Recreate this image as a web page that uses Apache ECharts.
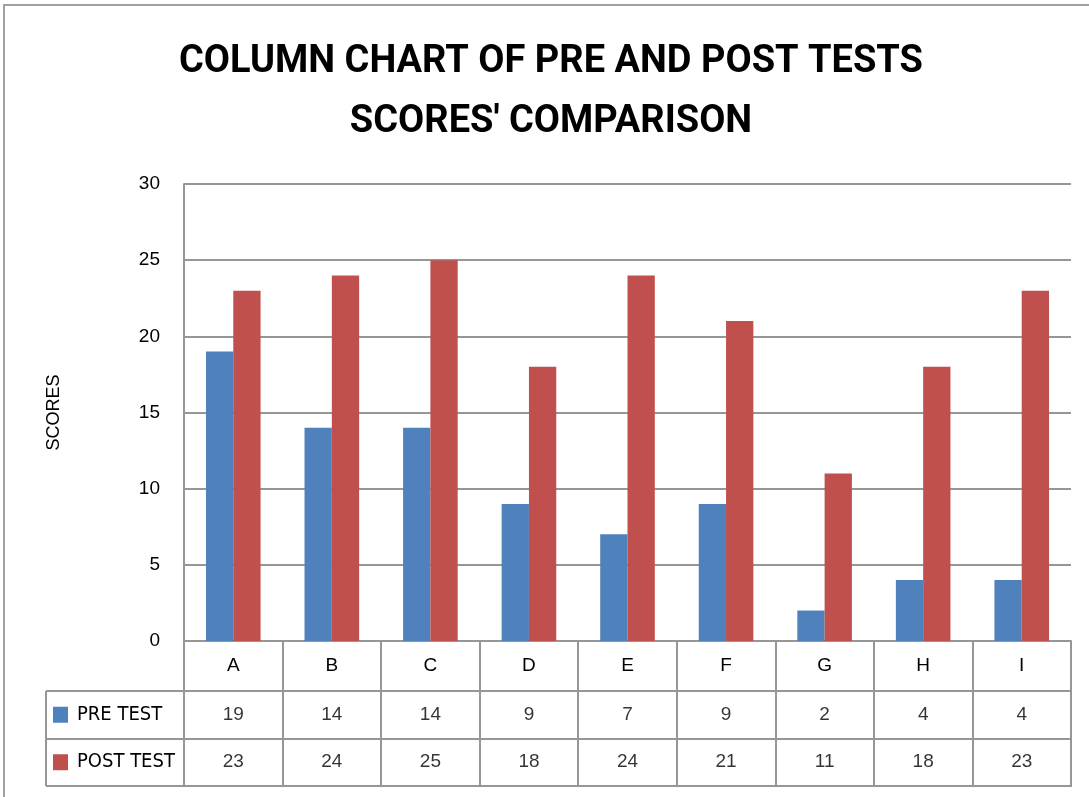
<!DOCTYPE html>
<html>
<head>
<meta charset="utf-8">
<script src="https://cdn.jsdelivr.net/npm/echarts@6/dist/echarts.min.js"></script>
<style>
  html, body { margin: 0; padding: 0; background: #fff; }
  #chart { width: 1089px; height: 797px; }
</style>
</head>
<body>
<div id="chart"></div>
<script>
const categories = ['A', 'B', 'C', 'D', 'E', 'F', 'G', 'H', 'I'];
const preTest = [19, 14, 14, 9, 7, 9, 2, 4, 4];
const postTest = [23, 24, 25, 18, 24, 21, 11, 18, 23];
const rowNames = ['PRE TEST', 'POST TEST'];

const BLUE = '#4F81BD';
const RED = '#C0504D';
const LINE = '#969696';
const NARROW = '"DejaVu Sans Condensed", "DejaVu Sans", sans-serif';
const SANS = '"Liberation Sans", Arial, sans-serif';

const chart = echarts.init(document.getElementById('chart'));

// cells of the data table: [category, row, value]
const tableCells = [];
categories.forEach((c, i) => {
  tableCells.push([c, rowNames[0], preTest[i]]);
  tableCells.push([c, rowNames[1], postTest[i]]);
});

chart.setOption({
  backgroundColor: '#fff',
  animation: false,
  title: {
    text: 'COLUMN CHART OF PRE AND POST TESTS\nSCORES\' COMPARISON',
    left: 546,
    top: 27,
    textAlign: 'center',
    textStyle: {
      fontFamily: 'Roboto, "Liberation Sans", sans-serif',
      fontWeight: 'bold',
      fontSize: 38,
      lineHeight: 60,
      color: '#000'
    }
  },
  graphic: [
    {
      type: 'rect',
      shape: {x: 4, y: 5, width: 2000, height: 2000},
      style: {fill: 'none', stroke: '#a0a0a0', lineWidth: 2},
      silent: true
    },
    {
      type: 'line',
      shape: {x1: 46, y1: 691, x2: 46, y2: 786},
      style: {stroke: LINE, lineWidth: 2},
      silent: true
    }
  ],
  grid: [
    {left: 184, right: 18, top: 184, bottom: 797 - 641, containLabel: false},
    {left: 184, right: 18, top: 691, bottom: 797 - 786, show: true,
      borderColor: LINE, borderWidth: 2, containLabel: false}
  ],
  xAxis: [
    {
      type: 'category',
      gridIndex: 0,
      data: categories,
      axisLine: {show: true, lineStyle: {color: LINE, width: 2}},
      axisTick: {show: true, length: 49, interval: 0, alignWithLabel: false,
        lineStyle: {color: LINE, width: 2}},
      axisLabel: {margin: 15, fontSize: 19, fontFamily: SANS, color: '#000', interval: 0},
      splitLine: {show: false}
    },
    {
      type: 'category',
      gridIndex: 1,
      data: categories,
      axisLine: {show: false},
      axisTick: {show: false},
      axisLabel: {show: false},
      splitLine: {show: true, interval: 0, lineStyle: {color: LINE, width: 2}}
    }
  ],
  yAxis: [
    {
      type: 'value',
      gridIndex: 0,
      min: 0,
      max: 30,
      interval: 5,
      name: 'SCORES',
      nameLocation: 'middle',
      nameGap: 121,
      nameRotate: 90,
      nameTextStyle: {fontFamily: SANS, fontSize: 18, color: '#000'},
      axisLine: {show: true, lineStyle: {color: LINE, width: 2}},
      axisTick: {show: false},
      axisLabel: {margin: 24, fontSize: 19, fontFamily: SANS, color: '#000'},
      splitLine: {show: true, lineStyle: {color: LINE, width: 2}}
    },
    {
      type: 'category',
      gridIndex: 1,
      inverse: true,
      data: rowNames,
      axisLine: {show: false},
      axisTick: {show: true, length: 138, interval: 0, alignWithLabel: false,
        lineStyle: {color: LINE, width: 2}},
      axisLabel: {
        align: 'left',
        margin: 131,
        formatter: v => (v === 'PRE TEST' ? '{pre|}' : '{post|}') + '{t|' + v + '}',
        rich: {
          pre: {backgroundColor: BLUE, width: 15, height: 16},
          post: {backgroundColor: RED, width: 15, height: 16},
          t: {fontFamily: NARROW, fontSize: 20, color: '#000', padding: [0, 0, 0, 9]}
        }
      },
      splitLine: {show: true, interval: 0, lineStyle: {color: LINE, width: 2}}
    }
  ],
  series: [
    {
      name: 'PRE TEST',
      type: 'bar',
      xAxisIndex: 0,
      yAxisIndex: 0,
      data: preTest,
      barWidth: '27.7%',
      barGap: '0%',
      itemStyle: {color: BLUE}
    },
    {
      name: 'POST TEST',
      type: 'bar',
      xAxisIndex: 0,
      yAxisIndex: 0,
      data: postTest,
      barWidth: '27.7%',
      barGap: '0%',
      itemStyle: {color: RED}
    },
    {
      name: 'table',
      type: 'scatter',
      xAxisIndex: 1,
      yAxisIndex: 1,
      symbolSize: 0,
      data: tableCells,
      label: {
        show: true,
        position: 'inside',
        formatter: p => String(p.value[2]),
        fontFamily: SANS,
        fontSize: 19,
        color: '#000'
      }
    }
  ]
});
</script>
</body>
</html>
